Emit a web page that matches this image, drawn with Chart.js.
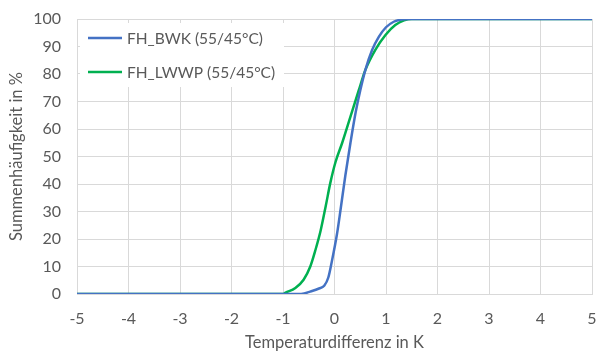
<!DOCTYPE html>
<html>
<head>
<meta charset="utf-8">
<script src="https://cdn.jsdelivr.net/npm/chart.js@4.4.0/dist/chart.umd.min.js"></script>
<style>
  html, body { margin: 0; padding: 0; background: #fff; }
  #wrap { width: 597px; height: 354px; }
</style>
</head>
<body>
<div id="wrap"><canvas id="summen"></canvas></div>
<script>
const xTicks = [-5, -4, -3, -2, -1, 0, 1, 2, 3, 4, 5];
const yTicks = [0, 10, 20, 30, 40, 50, 60, 70, 80, 90, 100];

// FH_BWK (55/45°C)
const bwkX = [-5, -0.65, -0.45, -0.3, -0.2, -0.12, -0.05, 0.05, 0.12, 0.21, 0.31, 0.41, 0.5, 0.6, 0.73, 0.86, 1.0, 1.15, 1.3, 1.45, 5];
const bwkY = [0, 0, 1, 2, 3, 6, 12, 22, 31, 43, 55, 66, 74, 81.5, 88.7, 93.5, 97, 99, 99.8, 100, 100];

// FH_LWWP (55/45°C)
const lwwpX = [-5, -1.0, -0.95, -0.76, -0.6, -0.47, -0.37, -0.27, -0.17, -0.08, 0.02, 0.15, 0.31, 0.47, 0.6, 0.79, 0.99, 1.18, 1.35, 1.5, 5];
const lwwpY = [0, 0, 0.5, 2.2, 5.2, 10, 16, 23, 32, 40.5, 48, 55, 64.5, 74, 81.5, 88.7, 94.2, 97.8, 99.5, 100, 100];

const pts = (xs, ys) => xs.map((x, i) => ({ x: x, y: ys[i] }));

const FONT = 'Lato, "Open Sans", sans-serif';
const TEXT = '#595959';
const GRID = '#d9d9d9';

// legend box drawn over the plot, like the Excel one
const boxLegend = {
  id: 'boxLegend',
  afterDatasetsDraw(chart) {
    const ctx = chart.ctx;
    ctx.save();
    ctx.fillStyle = '#fff';
    ctx.fillRect(80, 23, 204, 64);
    ctx.font = '15.5px ' + FONT;
    ctx.textBaseline = 'middle';
    chart.data.datasets.forEach((ds, i) => {
      const y = 38 + i * 34;
      ctx.strokeStyle = ds.borderColor;
      ctx.lineWidth = 2.5;
      ctx.beginPath();
      ctx.moveTo(88, y);
      ctx.lineTo(122, y);
      ctx.stroke();
      ctx.fillStyle = TEXT;
      ctx.fillText(ds.label, 127, y + 1);
    });
    ctx.restore();
  }
};

new Chart(document.getElementById('summen'), {
  type: 'line',
  data: {
    datasets: [{
      label: 'FH_BWK (55/45°C)',
      data: pts(bwkX, bwkY),
      borderColor: '#4472C4',
      borderWidth: 2.5,
      pointRadius: 0,
      cubicInterpolationMode: 'monotone',
    }, {
      label: 'FH_LWWP (55/45°C)',
      data: pts(lwwpX, lwwpY),
      borderColor: '#00B050',
      borderWidth: 2.5,
      pointRadius: 0,
      cubicInterpolationMode: 'monotone',
    }],
  },
  options: {
    responsive: true,
    maintainAspectRatio: false,
    animation: false,
    layout: { padding: { top: 19, right: 5, bottom: 0, left: 0 } },
    plugins: { legend: { display: false }, tooltip: { enabled: false } },
    scales: {
      x: {
        type: 'linear',
        min: -5,
        max: 5,
        afterBuildTicks: (s) => { s.ticks = xTicks.map(v => ({ value: v })); },
        afterFit: (s) => { s.height = 60; s.paddingLeft = 0; s.paddingRight = 0; },
        grid: { color: GRID, drawTicks: false },
        border: { color: GRID },
        ticks: { color: TEXT, font: { family: FONT, size: 16 }, padding: 15 },
        title: { display: true, text: 'Temperaturdifferenz in K', color: TEXT, font: { family: FONT, size: 16.5 }, padding: { bottom: 1 } },
      },
      y: {
        min: 0,
        max: 100,
        afterBuildTicks: (s) => { s.ticks = yTicks.map(v => ({ value: v })); },
        afterFit: (s) => { s.width = 77; s.paddingTop = 0; s.paddingBottom = 0; },
        grid: { color: GRID, drawTicks: false },
        border: { color: GRID },
        ticks: { color: TEXT, font: { family: FONT, size: 16 }, padding: 16 },
        title: { display: true, text: 'Summenhäufigkeit in %', color: TEXT, font: { family: FONT, size: 16.5 }, padding: { top: 7 } },
      },
    },
  },
  plugins: [boxLegend],
});
</script>
</body>
</html>
